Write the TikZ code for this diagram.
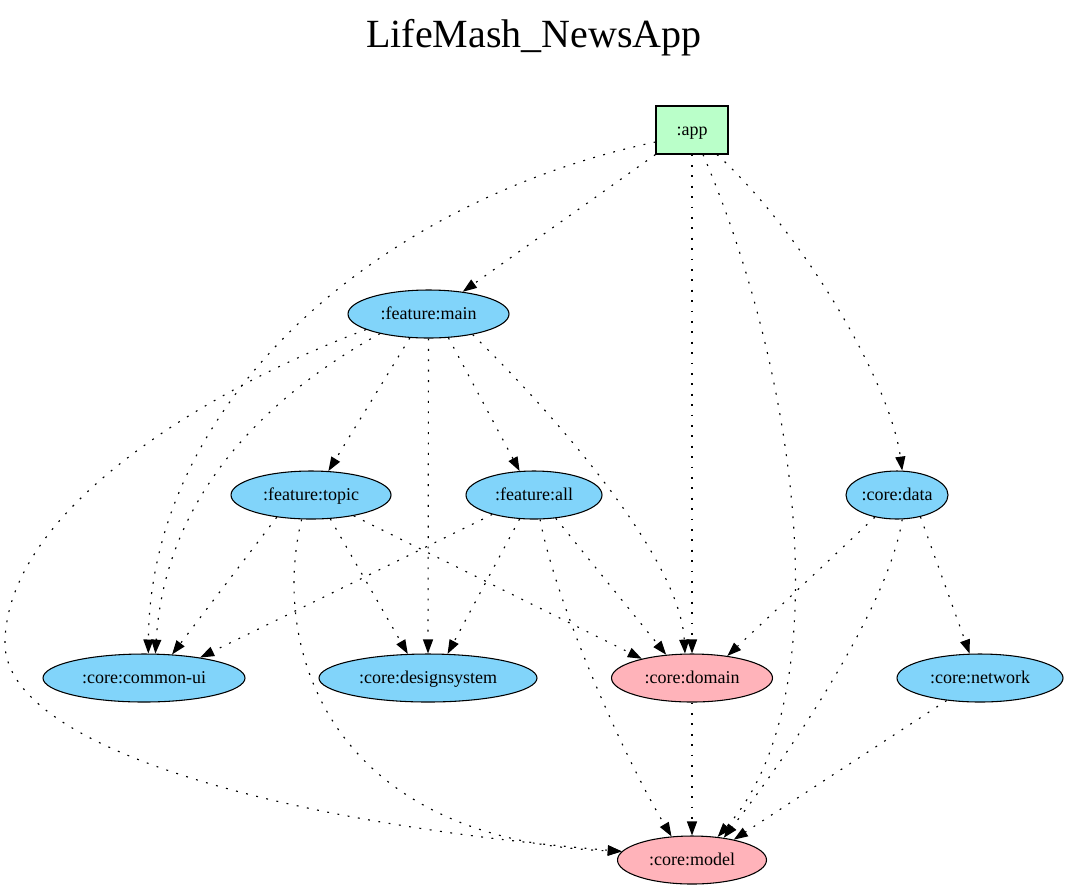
\documentclass[tikz,border=0pt]{standalone}
\usepackage{fontspec}
\setmainfont{Liberation Serif}
\usetikzlibrary{shapes.geometric,arrows.meta}
\definecolor{modblue}{HTML}{81D4FA}
\definecolor{modpink}{HTML}{FFB3BA}
\definecolor{modgreen}{HTML}{BAFFC9}
\begin{document}
\begin{tikzpicture}[x=0.75pt,y=-0.75pt,
  lbl/.style={font=\fontsize{13.5}{16}\selectfont, text height=9.5pt, text depth=2pt, inner sep=0pt},
  mod/.style={lbl, ellipse, draw, line width=0.8pt, minimum height=36pt, fill=modblue},
  pinkmod/.style={mod, fill=modpink},
  appbox/.style={lbl, rectangle, draw, line width=0.8pt, minimum width=54pt, minimum height=36pt, fill=modgreen},
  dep/.style={line width=0.85pt, dash pattern=on 1.4pt off 6.4pt, -{Triangle[length=10.5pt,width=7.5pt]}},
]
\useasboundingbox (0,0) rectangle (1069,890);
\node[font=\fontsize{30}{36}\selectfont, anchor=base, inner sep=0pt] (title) at (534,47) {LifeMash\_NewsApp};

\node[appbox] (app) at (692,130) {:app};
\node[mod, minimum width=120.75pt] (main) at (428.5,314) {:feature:main};
\node[mod, minimum width=120pt] (topic) at (311,495) {:feature:topic};
\node[mod, minimum width=102pt] (all) at (534,495) {:feature:all};
\node[mod, minimum width=76.5pt] (data) at (897,495) {:core:data};
\node[mod, minimum width=151.5pt] (cui) at (144,678) {:core:common-ui};
\node[mod, minimum width=163.5pt] (ds) at (428,678) {:core:designsystem};
\node[pinkmod, minimum width=120.75pt] (dom) at (692,678) {:core:domain};
\node[mod, minimum width=124.5pt] (net) at (980,678) {:core:network};
\node[pinkmod, minimum width=111.75pt] (model) at (692,860) {:core:model};

% :app
\draw[dep] (app.south west) -- (main.33);
\draw[dep] ([yshift=-9pt]app.west) .. controls (380,200) and (150,400) .. (cui.80);
\draw[dep] (app.south) -- (dom.north);
\draw[dep] ([xshift=8.25pt]app.south) .. controls (800,380) and (840,700) .. (model.42);
\draw[dep] ([xshift=18.75pt]app.south) .. controls (800,230) and (890,380) .. (data.78);

% :feature:main
\draw[dep] (main.-128) -- (topic.54);
\draw[dep] (main.south) -- (ds.north);
\draw[dep] (main.-50) -- (all.121);
\draw[dep] (main.-25) .. controls (560,420) and (680,560) .. (dom.106);
\draw[dep] (main.-158) .. controls (260,400) and (165,500) .. (cui.65);
\draw[dep] (main.-166) .. controls (230,380) and (10,500) .. (5,640) .. controls (0,740) and (250,820) .. (model.173);

% :feature:topic
\draw[dep] (topic.-147) -- (cui.40);
\draw[dep] (topic.-51) -- (ds.130);
\draw[dep] (topic.-26) -- (dom.159);
\draw[dep] (topic.-111) .. controls (270,650) and (330,840) .. (model.173);

% :feature:all
\draw[dep] (all.-155) -- (cui.20);
\draw[dep] (all.-121) -- (ds.51);
\draw[dep] (all.-47) -- (dom.138);
\draw[dep] (all.-76) .. controls (555,600) and (620,750) .. (model.131);

% :core:data
\draw[dep] (data.-135) -- (dom.32);
\draw[dep] (data.-78) .. controls (890,600) and (800,740) .. (model.35);
\draw[dep] (data.-43) -- (net.113);

% lower
\draw[dep] (dom.south) -- (model.north);
\draw[dep] (net.-146) -- (model.26);
\end{tikzpicture}
\end{document}
